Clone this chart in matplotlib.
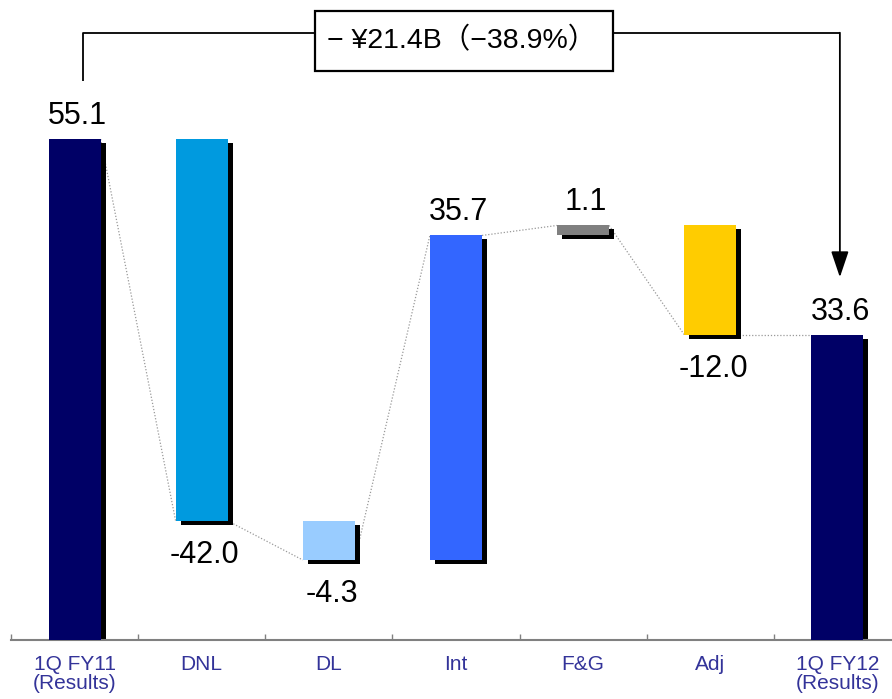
import numpy as np
import matplotlib
matplotlib.use("Agg")
import matplotlib.pyplot as plt
from matplotlib.patches import Rectangle
from matplotlib.transforms import offset_copy

# ---- data ----
categories = ["1Q FY11\n(Results)", "DNL", "DL", "Int", "F&G", "Adj", "1Q FY12\n(Results)"]
values = [55.1, -42.0, -4.3, 35.7, 1.1, -12.0, 33.6]
is_total = [True, False, False, False, False, False, True]
bar_colors = ["#000066", "#009ADF", "#99CCFF", "#3366FF", "#808080", "#FFCC00", "#000066"]
change_text = "− ¥21.4B（−38.9%）"

plt.rcParams.update({
    "font.family": ["Liberation Sans", "Noto Sans CJK JP", "DejaVu Sans"],
})

fig = plt.figure(figsize=(8.92, 6.99), dpi=100)
ax = fig.add_axes([11 / 892, 59 / 699, 881 / 892, 640 / 699])

# waterfall geometry
bottoms, heights, ends = [], [], []
cum = 0.0
for v, tot in zip(values, is_total):
    if tot:
        bottoms.append(0.0)
        heights.append(v)
        cum = v
    else:
        start = cum
        cum = cum + v
        bottoms.append(min(start, cum))
        heights.append(abs(v))
    ends.append(cum)

x = np.arange(len(values))
width = 0.41

# shadows (offset copies of the bars)
shadow_tr = offset_copy(ax.transData, fig=fig, x=5, y=-4, units="dots")
ax.bar(x, heights, width, bottom=bottoms, color="black", zorder=2,
       transform=shadow_tr)
ax.bar(x, heights, width, bottom=bottoms, color=bar_colors, zorder=3)

# dotted connectors between end levels
for i in range(len(values) - 1):
    ax.plot([x[i] + width / 2, x[i + 1] - width / 2], [ends[i], ends[i + 1]],
            color="#999999", linestyle=(0, (1, 1.5)), linewidth=0.9, zorder=1)

# value labels
for i, v in enumerate(values):
    if v >= 0:
        y, off = bottoms[i] + heights[i], 15
    else:
        y, off = bottoms[i], -42
    ax.annotate(f"{v:.1f}", xy=(x[i], y), xytext=(3, off),
                textcoords="offset pixels", ha="center", va="baseline",
                fontsize=22, color="black", zorder=5)

# bracket with arrow from first total to last total
x_left = x[0] + 0.07
x_right = x[-1] + 0.02
y_top = values[0] + 11.7
ax.plot([x_left, x_left, x_right], [values[0] + 6.4, y_top, y_top],
        color="black", linewidth=1.3, zorder=4, solid_capstyle="butt")
ax.annotate("", xy=(x_right, values[-1] + 6.3), xytext=(x_right, y_top),
            arrowprops=dict(arrowstyle="-|>,head_length=0.8,head_width=0.27",
                            color="black", lw=1.3, mutation_scale=20,
                            shrinkA=0, shrinkB=0), zorder=4)

# change box
box_cx = (x[0] + x[-1]) / 2 + 0.064
box_cy = y_top - 0.9
box_w, box_h = 2.344, 6.6
ax.add_patch(Rectangle((box_cx - box_w / 2, box_cy - box_h / 2), box_w, box_h,
                       facecolor="white", edgecolor="black", linewidth=1.6,
                       zorder=6))
ax.text(box_cx - 0.02, box_cy, change_text, fontsize=20.5,
        ha="center", va="center", zorder=7)

# axes styling
ax.set_xlim(-0.5, 6.43)
ax.set_ylim(0, 70.4)
for s in ["top", "right", "left"]:
    ax.spines[s].set_visible(False)
ax.spines["bottom"].set_color("#808080")
ax.spines["bottom"].set_linewidth(1.5)
ax.set_yticks([])

ax.set_xticks(np.arange(len(values)) - 0.5)
ax.set_xticklabels([])
ax.tick_params(axis="x", which="major", direction="in", length=4, width=1,
               color="#808080")
ax.set_xticks(x, minor=True)
ax.set_xticklabels(categories, minor=True)
ax.tick_params(axis="x", which="minor", length=0, pad=11, labelsize=15,
               labelcolor="#333399")
for lbl in ax.get_xticklabels(minor=True):
    lbl.set_linespacing(1.0)

fig.savefig("out.png", dpi=100)
